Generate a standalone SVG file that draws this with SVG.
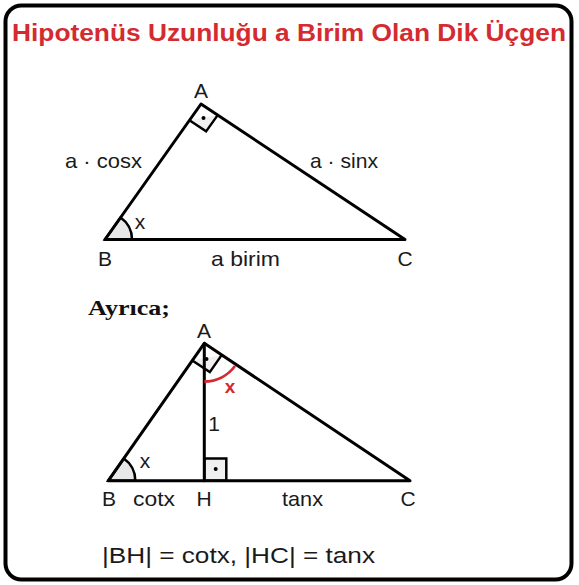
<svg xmlns="http://www.w3.org/2000/svg" width="579" height="585" viewBox="0 0 579 585">
<style>
.ln{stroke:#000;stroke-width:3;fill:none;stroke-linejoin:round;stroke-linecap:round}
.sq{stroke:#000;stroke-width:2.5;fill:#f0f0f0;stroke-linejoin:miter}
.arc{stroke:#000;stroke-width:2.5;fill:#e8e8e8}
.t{font-family:"Liberation Sans",Arial,sans-serif;font-size:21px;fill:#1a1a1a}
.m{text-anchor:middle}
</style>
<rect width="579" height="585" fill="#fff"/>
<rect x="5.5" y="5.5" width="566" height="574" rx="16" fill="none" stroke="#000" stroke-width="4"/>
<text x="12" y="41" font-family="'Liberation Sans',Arial,sans-serif" font-weight="bold" font-size="23" fill="#d42a30" textLength="554" lengthAdjust="spacingAndGlyphs">Hipotenüs Uzunluğu a Birim Olan Dik Üçgen</text>

<g id="triangle1">
<path class="arc" d="M105,239.5 L132,239.5 A27,27 0 0 0 120.6,217.5 Z"/>
<path class="sq" d="M189.4,120.3 L206.1,131.4 L217.7,115.1" fill="none"/>
<polygon class="ln" points="201,104 105,239.5 405,239.5"/>
<circle cx="203.5" cy="118" r="2"/>
</g>
<g id="labels1">
<text class="t m" x="201" y="98">A</text>
<text class="t m" x="105" y="266">B</text>
<text class="t m" x="405" y="266">C</text>
<text class="t" x="211" y="266" textLength="69" lengthAdjust="spacingAndGlyphs">a birim</text>
<text class="t" x="65" y="168" textLength="77" lengthAdjust="spacingAndGlyphs">a · cosx</text>
<text class="t" x="310" y="168" textLength="68" lengthAdjust="spacingAndGlyphs">a · sinx</text>
<text class="t m" x="140" y="229">x</text>
</g>

<text x="88" y="315" font-family="'Liberation Serif','Times New Roman',serif" font-weight="bold" font-size="21" fill="#111" textLength="82" lengthAdjust="spacingAndGlyphs">Ayrıca;</text>

<g id="triangle2">
<path class="arc" d="M108.3,480.7 L135.3,480.7 A27,27 0 0 0 123.8,458.6 Z"/>
<rect class="sq" x="204.3" y="458.5" width="22" height="22.2"/>
<circle cx="215.7" cy="469" r="2"/>
<path class="sq" d="M192.3,360.5 L209.8,372.1 L221.8,354.9" fill="none"/>
<circle cx="206.5" cy="359" r="2"/>
<polygon class="ln" points="204.3,343.3 108.3,480.7 410,480.7"/>
<line class="ln" x1="204.3" y1="343.3" x2="204.3" y2="480.7"/>
<path d="M204.3,381.5 A38.2,38.2 0 0 0 235,366" fill="none" stroke="#d42a30" stroke-width="2.8"/>
</g>
<g id="labels2">
<text class="t m" x="204" y="338">A</text>
<text class="t m" x="109" y="506">B</text>
<text class="t m" x="204" y="506">H</text>
<text class="t m" x="408" y="506">C</text>
<text class="t" x="133" y="506" textLength="42" lengthAdjust="spacingAndGlyphs">cotx</text>
<text class="t" x="282" y="506" textLength="41" lengthAdjust="spacingAndGlyphs">tanx</text>
<text class="t m" x="145" y="468">x</text>
<text class="t m" x="214" y="431">1</text>
<text x="230" y="393" text-anchor="middle" font-family="'Liberation Sans',Arial,sans-serif" font-weight="bold" font-size="19" fill="#d42a30">x</text>
</g>

<text class="t" x="102" y="563" style="font-size:22px" textLength="273" lengthAdjust="spacingAndGlyphs">|BH| = cotx, |HC| = tanx</text>
</svg>
